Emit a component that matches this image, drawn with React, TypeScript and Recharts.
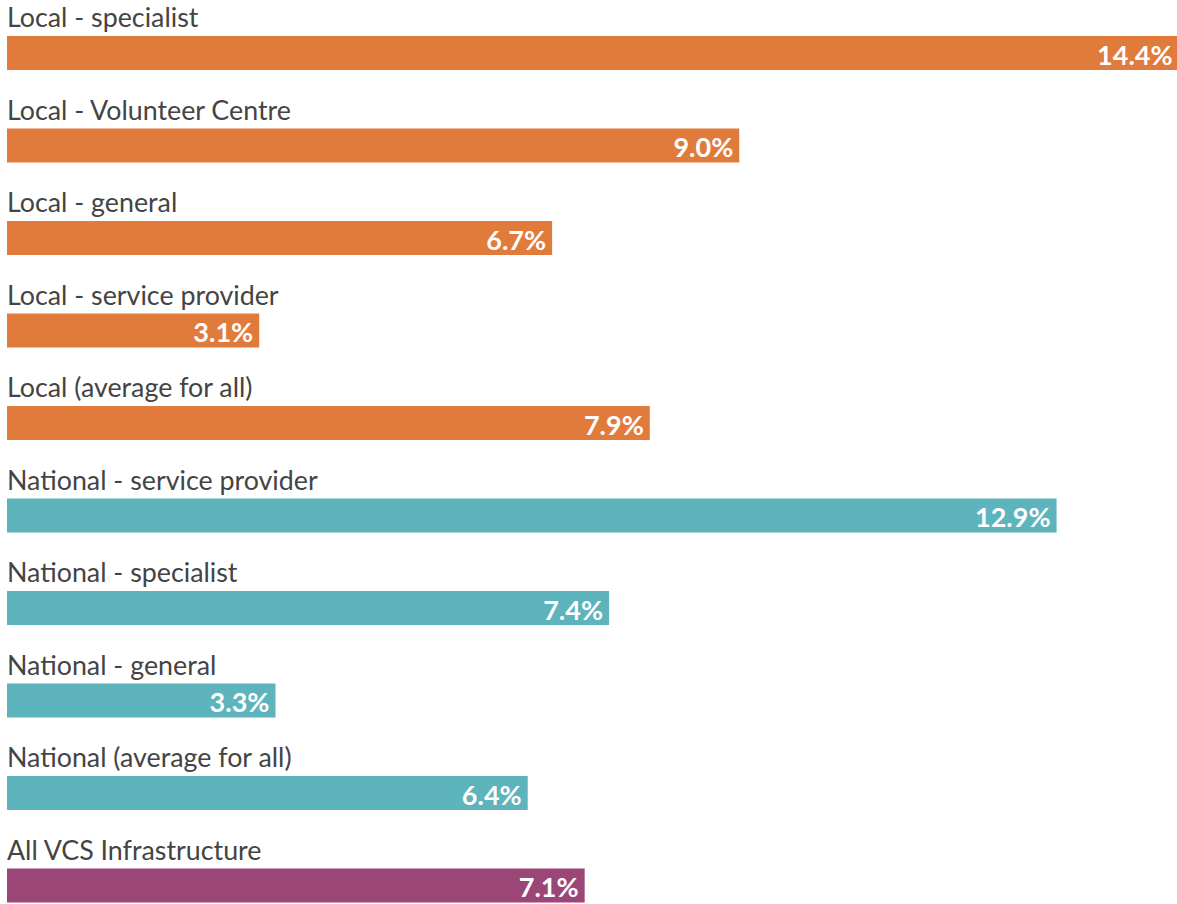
import { BarChart, Bar, XAxis, YAxis, Cell, LabelList } from "recharts";

const categories = [
  "Local - specialist",
  "Local - Volunteer Centre",
  "Local - general",
  "Local - service provider",
  "Local (average for all)",
  "National - service provider",
  "National - specialist",
  "National - general",
  "National (average for all)",
  "All VCS Infrastructure",
];
const values = [14.4, 9.0, 6.7, 3.1, 7.9, 12.9, 7.4, 3.3, 6.4, 7.1];
const groups = ["local", "local", "local", "local", "local", "national", "national", "national", "national", "all"];

const groupColors: { [key: string]: string } = {
  local: "#E07B3C",
  national: "#5DB4BC",
  all: "#9B4677",
};

const data = categories.map((name, i) => ({ name, value: values[i], group: groups[i] }));

const FONT = "Lato, 'Open Sans', sans-serif";

const NameLabel = (props: any) => {
  const { x, y, value } = props;
  return (
    <text x={x} y={y - 9} fill="#444" fontSize={26.8} fontFamily={FONT}>
      {value}
    </text>
  );
};

const ValueLabel = (props: any) => {
  const { x, y, width, height, value } = props;
  return (
    <text
      x={x + width - 6}
      y={y + height / 2 + 1}
      fill="#fff"
      fontSize={27}
      fontWeight={700}
      fontFamily={FONT}
      textAnchor="end"
      dominantBaseline="central"
    >
      {value.toFixed(1)}%
    </text>
  );
};

export default function App() {
  return (
    <div style={{ position: "absolute", left: 0, top: 0, width: 1177, height: 904, overflow: "hidden", background: "#fff" }}>
      <BarChart
        width={1177}
        height={932}
        data={data}
        layout="vertical"
        margin={{ top: 7, right: 0, bottom: 0, left: 7 }}
      >
        <XAxis type="number" domain={[0, 14.38]} allowDataOverflow hide />
        <YAxis type="category" dataKey="name" hide />
        <Bar dataKey="value" barSize={34} isAnimationActive={false}>
          {data.map((d, i) => (
            <Cell key={i} fill={groupColors[d.group]} />
          ))}
          <LabelList dataKey="name" content={NameLabel} />
          <LabelList dataKey="value" content={ValueLabel} />
        </Bar>
      </BarChart>
    </div>
  );
}
